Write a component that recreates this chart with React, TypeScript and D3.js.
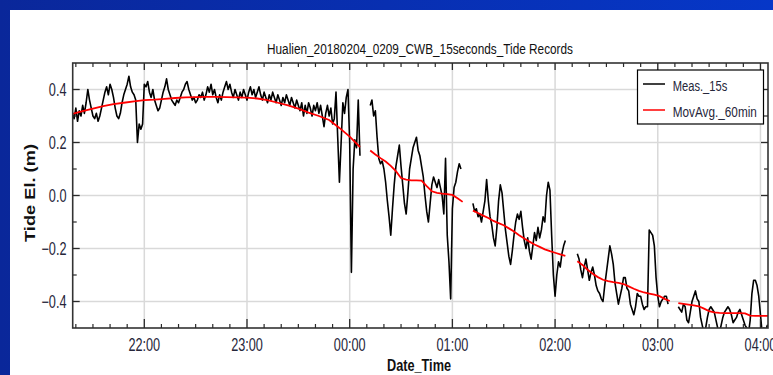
import React from 'react';
import * as d3 from 'd3';

// ---------- text ----------
const chartTitle = 'Hualien_20180204_0209_CWB_15seconds_Tide Records';
const xAxisTitle = 'Date_Time';
const yAxisTitle = 'Tide El. (m)';
const seriesNames = ['Meas._15s', 'MovAvg._60min'];
const yTickValues = [-0.4, -0.2, 0.0, 0.2, 0.4];

// ---------- data ----------
// Measured tide (cm), one value per minute; segment start given in minutes after 22:00 (2018-02-04)
const measStarts = [-42, 132, 192, 253, 312];
const meas1Cm = [
  31, 29, 33, 28, 32, 30, 34, 31, 35, 40,
  36, 33, 30, 29, 31, 28, 30, 33, 36, 39,
  41, 38, 42, 40, 37, 33, 30, 29, 31, 35,
  38, 40, 42, 45, 41, 39, 38, 36, 20, 27,
  25, 27, 42, 41, 43, 39, 37, 40, 36, 34,
  32, 33, 36, 39, 41, 44, 40, 38, 36, 35,
  34, 36, 35, 37, 39, 40, 42, 43, 40, 38,
  36, 37, 35, 36, 38, 37, 39, 36, 38, 41,
  39, 42, 38, 40, 37, 35, 38, 36, 39, 41,
  43, 40, 42, 39, 37, 40, 38, 36, 39, 37,
  40, 38, 36, 39, 41, 38, 40, 37, 39, 41,
  38, 36, 39, 37, 35, 38, 36, 39, 37, 35,
  38, 36, 34, 37, 35, 38, 36, 34, 37, 35,
  33, 36, 34, 32, 35, 30, 34, 31, 35, 33,
  30, 34, 32, 35, 31, 34, 30, 26, 31, 34,
  30, 33, 27, 29, 39, 22, 5, 20, 35, 31,
  37, 40, 20, -29, 10, 21, 18, 36, 15,
];
const meas2Cm = [
  34, 36, 30, 32, 22, 14, 12, 13, 10, 5,
  -2, -8, -15, -5, 4, 11, 15, 19, 11, 4,
  -3, -7, 1, 10, 14, 18, 20, 22, 17, 15,
  11, 7, 0, -6, -10, -3, 4, 7, 5, 3,
  6, 3, 0, -7, 14, -15, -25, -39, -5, 3,
  5, 9, 12, 10,
];
const meas3Cm = [
  -3, -6, -5, -8, -7, -10, -6, -2, 6, -2,
  -8, -11, -16, -19, -12, -2, 4, 1, -6, -13,
  -18, -23, -26, -21, -15, -10, -7, -9, -6, -12,
  -17, -20, -16, -21, -24, -19, -14, -17, -12, -16,
  -13, -8, -10, 0, 5, 2, -15, -30, -38, -30,
  -25, -27, -22, -19, -17,
];
const meas4Cm = [
  -22, -24, -28, -31, -27, -24, -28, -32, -29, -27,
  -30, -34, -36, -37, -39, -40, -34, -29, -24, -19,
  -22, -26, -33, -37, -41, -38, -35, -31, -31, -35,
  -36, -41, -43, -45, -42, -37, -38, -38, -41, -43,
  -42, -42, -13, -14, -15, -19, -31, -38, -42, -40,
  -39, -38, -38, -41,
];
const meas5Cm = [
  -42, -43, -44, -41, -42, -47, -48, -44, -40, -38,
  -36, -39, -40, -46, -49, -52, -50, -46, -43, -42,
  -43, -44, -47, -50, -52, -49, -46, -44, -43, -42,
  -43, -45, -48, -47, -46, -44, -43, -45, -47, -49,
  -50, -52, -47, -37, -32, -32, -34, -38, -45, -52,
  -50, -51, -49, -52,
];

// 60-min moving average (m); segment start (minutes after 22:00) and sampling step (minutes)
const maStarts = [-42, 132, 192, 253, 312];
const maSteps = [6, 3, 3, 3, 3];
const ma1 = [0.308, 0.318, 0.328, 0.337, 0.345, 0.350, 0.355, 0.360, 0.362, 0.365, 0.368, 0.370, 0.371, 0.372, 0.372,
  0.371, 0.370, 0.369, 0.366, 0.360, 0.350, 0.340, 0.328, 0.313, 0.300, 0.285, 0.255, 0.222, 0.183];
const ma2 = [0.170, 0.155, 0.141, 0.128, 0.112, 0.092, 0.066, 0.060, 0.057, 0.057, 0.056, 0.035, 0.016, 0.010, 0.007,
  0.005, 0.002, -0.010, -0.024];
const ma3 = [-0.057, -0.066, -0.076, -0.085, -0.096, -0.104, -0.112, -0.124, -0.136, -0.150, -0.162, -0.174, -0.185,
  -0.194, -0.203, -0.210, -0.216, -0.222, -0.228];
const ma4 = [-0.248, -0.262, -0.280, -0.295, -0.308, -0.318, -0.323, -0.327, -0.330, -0.334, -0.343, -0.352, -0.360,
  -0.366, -0.370, -0.374, -0.380, -0.390, -0.398];
const ma5 = [-0.406, -0.409, -0.412, -0.415, -0.418, -0.427, -0.436, -0.441, -0.443, -0.444, -0.444, -0.444, -0.444,
  -0.445, -0.453, -0.454, -0.454, -0.454, -0.454];

// ---------- layout ----------
const W = 773;
const H = 375;
const PL = 72.7;
const PR = 768;
const PT = 63;
const PB = 328;
const FONT = '"Liberation Sans", Arial, Helvetica, sans-serif';

const at = (min: number) => new Date(2018, 1, 4, 22, min);
const domainStart = new Date(2018, 1, 4, 21, 18, 10);
const domainEnd = new Date(2018, 1, 5, 4, 4, 24);

type Pt = [Date, number];

export default function App() {
  const x = d3.scaleTime().domain([domainStart, domainEnd]).range([PL, PR]);
  const y = d3.scaleLinear().domain([-0.5, 0.5]).range([PB, PT]);

  const measSegs: Pt[][] = [meas1Cm, meas2Cm, meas3Cm, meas4Cm, meas5Cm].map((arr, s) =>
    arr.map((v, i) => [at(measStarts[s] + i), v / 100] as Pt)
  );
  const maSegs: Pt[][] = [ma1, ma2, ma3, ma4, ma5].map((arr, s) =>
    arr.map((v, i) => [at(maStarts[s] + i * maSteps[s]), v] as Pt)
  );
  const line = d3.line<Pt>().x((d) => x(d[0])).y((d) => y(d[1]));

  const majorX = d3.timeHour.range(domainStart, domainEnd);
  const minorX = d3.timeMinute
    .every(10)!
    .range(domainStart, domainEnd)
    .filter((d) => d.getMinutes() !== 0);
  const minorY = y
    .ticks(10)
    .filter((v) => !yTickValues.some((t) => Math.abs(t - v) < 1e-6) && Math.abs(v) < 0.49);
  const fmt = d3.timeFormat('%H:%M');
  const tickColor = '#2a2a2a';
  const labelColor = '#26263a';

  return (
    <svg width={W} height={H} style={{ position: 'absolute', left: 0, top: 0 }} fontFamily={FONT}>
      <defs>
        <linearGradient id="bg" x1="0" y1="0" x2="1" y2="0">
          <stop offset="0" stopColor="#0a279a" />
          <stop offset="1" stopColor="#0637c8" />
        </linearGradient>
        <clipPath id="plotClip">
          <rect x={PL} y={PT} width={PR - PL} height={PB - PT} />
        </clipPath>
      </defs>
      <rect x={0} y={0} width={W} height={H} fill="url(#bg)" />
      <rect x={10} y={10} width={W - 10} height={H - 10} fill="#ffffff" />

      {/* grid */}
      {majorX.map((d, i) => (
        <line key={'gx' + i} x1={x(d)} x2={x(d)} y1={PT} y2={PB} stroke="#d9d9d9" strokeWidth={1.5} />
      ))}
      {yTickValues.map((v, i) => (
        <line key={'gy' + i} x1={PL} x2={PR} y1={y(v)} y2={y(v)} stroke="#d9d9d9" strokeWidth={1.5} />
      ))}

      {/* series */}
      <g clipPath="url(#plotClip)">
        {measSegs.map((seg, i) => (
          <path key={'m' + i} d={line(seg) || ''} fill="none" stroke="#000" strokeWidth={1.6} strokeLinejoin="round" />
        ))}
        {maSegs.map((seg, i) => (
          <path key={'a' + i} d={line(seg) || ''} fill="none" stroke="#ff0000" strokeWidth={1.8} />
        ))}
      </g>

      {/* frame */}
      <rect x={PL} y={PT} width={PR - PL} height={PB - PT} fill="none" stroke="#333" strokeWidth={1.6} />

      {/* x ticks */}
      {majorX.map((d, i) => (
        <g key={'tx' + i}>
          <line x1={x(d)} x2={x(d)} y1={PB} y2={PB - 9} stroke={tickColor} strokeWidth={1.3} />
          <line x1={x(d)} x2={x(d)} y1={PT} y2={PT + 7} stroke={tickColor} strokeWidth={1.3} />
          <g transform={`translate(${x(d)},351) scale(0.705,1)`}>
            <text textAnchor="middle" fontSize={18} fill={labelColor}>
              {fmt(d)}
            </text>
          </g>
        </g>
      ))}
      {minorX.map((d, i) => (
        <g key={'mx' + i}>
          <line x1={x(d)} x2={x(d)} y1={PB} y2={PB - 4} stroke={tickColor} strokeWidth={1.2} />
          <line x1={x(d)} x2={x(d)} y1={PT} y2={PT + 4} stroke={tickColor} strokeWidth={1.2} />
        </g>
      ))}

      {/* y ticks */}
      {yTickValues.map((v, i) => (
        <g key={'ty' + i}>
          <line x1={PL} x2={PL + 7} y1={y(v)} y2={y(v)} stroke={tickColor} strokeWidth={1.3} />
          <line x1={PR} x2={PR - 7} y1={y(v)} y2={y(v)} stroke={tickColor} strokeWidth={1.3} />
          <g transform={`translate(66.5,${y(v) + 6.5}) scale(0.705,1)`}>
            <text textAnchor="end" fontSize={18} fill={labelColor}>
              {d3.format('.1f')(v)}
            </text>
          </g>
        </g>
      ))}
      {minorY.map((v, i) => (
        <g key={'my' + i}>
          <line x1={PL} x2={PL + 4} y1={y(v)} y2={y(v)} stroke={tickColor} strokeWidth={1.2} />
          <line x1={PR} x2={PR - 4} y1={y(v)} y2={y(v)} stroke={tickColor} strokeWidth={1.2} />
        </g>
      ))}

      {/* titles */}
      <text x={420} y={54} textAnchor="middle" fontSize={14.7} fill="#111" textLength={306} lengthAdjust="spacingAndGlyphs">
        {chartTitle}
      </text>
      <text x={419} y={370.5} textAnchor="middle" fontSize={16} fontWeight="bold" fill="#111" textLength={64} lengthAdjust="spacingAndGlyphs">
        {xAxisTitle}
      </text>
      <text transform="translate(35,193) rotate(-90)" textAnchor="middle" fontSize={14} fontWeight="bold" fill="#111" textLength={98} lengthAdjust="spacingAndGlyphs">
        {yAxisTitle}
      </text>

      {/* legend */}
      <rect x={637.5} y={70} width={126} height={54} fill="#fff" stroke="#000" strokeWidth={1.2} />
      <line x1={643} x2={665} y1={84} y2={84} stroke="#000" strokeWidth={1.5} />
      <line x1={643} x2={665} y1={110} y2={110} stroke="#ff0000" strokeWidth={1.5} />
      <g transform="translate(672.7,90.5) scale(0.72,1)">
        <text fontSize={15.5} fill={labelColor}>{seriesNames[0]}</text>
      </g>
      <g transform="translate(672.7,116.5) scale(0.76,1)">
        <text fontSize={15.5} fill={labelColor}>{seriesNames[1]}</text>
      </g>
    </svg>
  );
}
